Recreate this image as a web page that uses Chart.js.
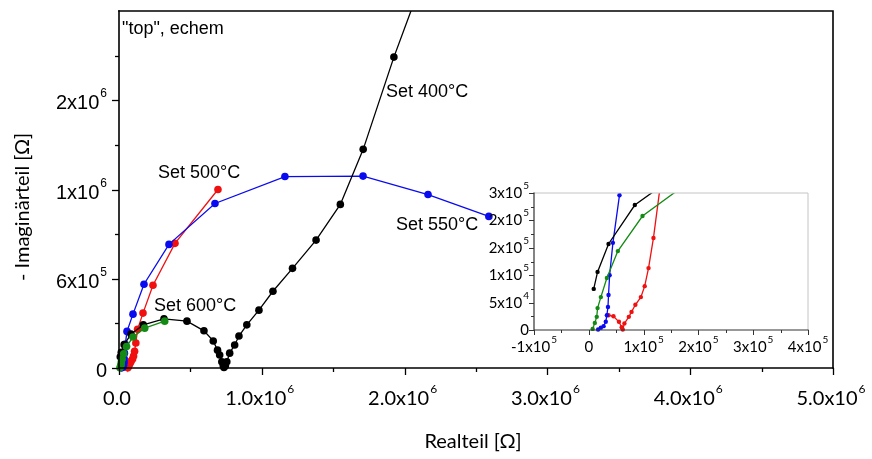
<!DOCTYPE html>
<html>
<head>
<meta charset="utf-8">
<script src="https://cdn.jsdelivr.net/npm/chart.js@4/dist/chart.umd.min.js"></script>
<style>
  html, body { margin: 0; padding: 0; background: #fff; }
  #wrap { position: relative; width: 872px; height: 459px; overflow: hidden; }
  #main { position: absolute; left: 0; top: 0; }
  #inset { position: absolute; left: 470px; top: 173px; }
</style>
</head>
<body>
<div id="wrap">
  <canvas id="main" width="872" height="459"></canvas>
  <canvas id="inset" width="368" height="190"></canvas>
</div>
<script>
// Impedance spectra (Nyquist): real part vs. negative imaginary part, in Ohm
const set400Re = [9e3, 1.6e4, 3.6e4, 8.4e4, 1.7e5, 3.15e5, 4.76e5, 5.95e5, 6.6e5, 6.9e5, 7.05e5, 7.2e5, 7.3e5, 7.35e5,
                  7.45e5, 7.55e5, 7.75e5, 8.1e5, 8.4e5, 8.95e5, 9.8e5, 1.078e6, 1.215e6, 1.38e6, 1.55e6, 1.71e6, 1.925e6, 2.16e6];
const set400Im = [7.5e4, 1.06e5, 1.57e5, 2.28e5, 2.9e5, 3.3e5, 3.15e5, 2.5e5, 1.82e5, 1.2e5, 8.7e4, 4.2e4, 1.5e4, 3e3,
                  1.5e4, 4.2e4, 1.0e5, 1.55e5, 2.15e5, 2.9e5, 3.89e5, 5.16e5, 6.7e5, 8.6e5, 1.1e6, 1.47e6, 2.09e6, 2.7e6];

const set500Re = [3.6e4, 4.5e4, 5.5e4, 6.0e4, 6.2e4, 6.5e4, 7.3e4, 7.8e4, 8.5e4, 9.5e4, 1.02e5, 1.09e5, 1.18e5,
                  1.3e5, 1.68e5, 2.38e5, 3.92e5, 6.93e5];
const set500Im = [2.7e4, 2.5e4, 1.5e4, 5e3, 1e3, 1.2e4, 2.4e4, 3.3e4, 4.6e4, 6.0e4, 8.0e4, 1.13e5, 1.68e5,
                  2.6e5, 3.69e5, 5.56e5, 8.38e5, 1.2e6];

const set550Re = [1.7e4, 2.2e4, 2.7e4, 3.1e4, 3.3e4, 3.5e4, 3.6e4, 3.8e4, 4.4e4, 5.6e4, 9.8e4, 1.75e5, 3.5e5,
                  6.72e5, 1.162e6, 1.709e6, 2.164e6, 2.59e6];
const set550Im = [1e3, 4e3, 7e3, 1.5e4, 2.7e4, 4.2e4, 6.4e4, 1.0e5, 1.59e5, 2.46e5, 3.62e5, 5.63e5, 8.31e5,
                  1.106e6, 1.287e6, 1.29e6, 1.166e6, 1.019e6];

const set600Re = [7e3, 1.1e4, 1.45e4, 1.6e4, 2.2e4, 3.3e4, 5.3e4, 9.8e4, 1.8e5, 3.2e5];
const set600Im = [2e3, 1.3e4, 2.4e4, 4.0e4, 6.0e4, 9.5e4, 1.44e5, 2.08e5, 2.68e5, 3.15e5];

// Axis ticks (all) and the labelled subset
const mainReTicks = [0, 5e5, 1e6, 1.5e6, 2e6, 2.5e6, 3e6, 3.5e6, 4e6, 4.5e6, 5e6];
const mainReLabels = [0, 1e6, 2e6, 3e6, 4e6, 5e6];
const mainImTicks = [0, 3e5, 6e5, 9e5, 1.2e6, 1.5e6, 1.8e6, 2.1e6];
const mainImLabels = [0, 6e5, 1.2e6, 1.8e6];
const insetReTicks = [-1e5, -5e4, 0, 5e4, 1e5, 1.5e5, 2e5, 2.5e5, 3e5, 3.5e5, 4e5];
const insetReLabels = [-1e5, 0, 1e5, 2e5, 3e5, 4e5];
const insetImTicks = [0, 2.5e4, 5e4, 7.5e4, 1e5, 1.25e5, 1.5e5, 1.75e5, 2e5, 2.25e5, 2.5e5];
const insetImLabels = [0, 5e4, 1e5, 1.5e5, 2e5, 2.5e5];

const zip = (xs, ys) => xs.map((x, i) => ({ x: x, y: ys[i] }));

// mantissa rounded to the axis format, exponent drawn as superscript
function sciParts(v, fixed) {
  if (v === 0) return [fixed ? '0.0' : '0', ''];
  const e = Math.floor(Math.log10(Math.abs(v)) + 1e-9);
  const m = v / Math.pow(10, e);
  return [(fixed ? m.toFixed(1) : String(Math.round(m))) + 'x10', String(e)];
}

function drawSci(ctx, parts, x, y, align, font, supFont, rise) {
  ctx.font = font;
  const w1 = ctx.measureText(parts[0]).width;
  ctx.font = supFont;
  const w2 = parts[1] ? ctx.measureText(parts[1]).width + 1 : 0;
  const total = w1 + w2;
  let start = x;
  if (align === 'center') start = x - total / 2;
  else if (align === 'right') start = x - total;
  ctx.textAlign = 'left';
  ctx.textBaseline = 'alphabetic';
  ctx.font = font;
  ctx.fillText(parts[0], start, y);
  if (parts[1]) {
    ctx.font = supFont;
    ctx.fillText(parts[1], start + w1 + 1, y - rise);
  }
}

function axesPlugin(spec) {
  return {
    id: 'axesFrame',
    afterDraw(chart) {
      const ctx = chart.ctx, a = chart.chartArea;
      const xs = chart.scales.x, ys = chart.scales.y;
      ctx.save();
      ctx.lineCap = 'square';
      ctx.strokeStyle = spec.farColor;
      ctx.lineWidth = spec.farWidth;
      ctx.beginPath();
      ctx.moveTo(a.left, a.top); ctx.lineTo(a.right, a.top); ctx.lineTo(a.right, a.bottom);
      ctx.stroke();
      ctx.strokeStyle = spec.axisColor;
      ctx.lineWidth = spec.axisWidth;
      ctx.beginPath();
      ctx.moveTo(a.left, a.top); ctx.lineTo(a.left, a.bottom); ctx.lineTo(a.right, a.bottom);
      ctx.stroke();
      ctx.lineCap = 'butt';
      ctx.lineWidth = spec.tickWidth;
      spec.xTicks.forEach(v => {
        const px = Math.round(xs.getPixelForValue(v)) + 0.5;
        const len = spec.xLabels.includes(v) ? spec.major : spec.minor;
        ctx.beginPath(); ctx.moveTo(px, a.bottom); ctx.lineTo(px, a.bottom + len); ctx.stroke();
      });
      spec.yTicks.forEach(v => {
        const py = Math.round(ys.getPixelForValue(v)) + 0.5;
        const len = spec.yLabels.includes(v) ? spec.major : spec.minor;
        ctx.beginPath(); ctx.moveTo(a.left, py); ctx.lineTo(a.left - len, py); ctx.stroke();
      });
      ctx.fillStyle = '#000';
      spec.xLabels.forEach(v => drawSci(ctx, sciParts(v, spec.xFixed), xs.getPixelForValue(v) + spec.xShift,
        a.bottom + spec.xDrop, 'center', spec.xFont, spec.xSupFont, spec.xRise));
      spec.yLabels.forEach(v => drawSci(ctx, sciParts(v, false), a.left - spec.yGap,
        ys.getPixelForValue(v) + spec.yDrop, 'right', spec.yFont, spec.ySupFont, spec.yRise));
      ctx.restore();
    }
  };
}

// axis titles and series annotations of the main plot
const mainText = {
  id: 'mainText',
  afterDraw(chart) {
    const ctx = chart.ctx;
    ctx.save();
    ctx.fillStyle = '#000';
    ctx.textBaseline = 'alphabetic';
    ctx.textAlign = 'left';
    ctx.font = '18px "Liberation Sans", Arial, sans-serif';
    ctx.fillText('"top", echem', 122, 34);
    ctx.fillText('Set 400°C', 386, 97);
    ctx.fillText('Set 500°C', 158, 178);
    ctx.fillText('Set 550°C', 396, 230);
    ctx.fillText('Set 600°C', 154, 311);
    ctx.textAlign = 'center';
    ctx.font = '20px Lato, "Open Sans", sans-serif';
    ctx.fillText('Realteil [Ω]', 473, 448);
    ctx.translate(29, 207);
    ctx.rotate(-Math.PI / 2);
    ctx.fillText('- Imaginärteil [Ω]', 0, 0);
    ctx.restore();
  }
};

function seriesSets(radius, width) {
  const mk = (label, re, im, color) => ({
    label: label, data: zip(re, im), showLine: true,
    borderColor: color, backgroundColor: color,
    borderWidth: width, pointRadius: radius, pointHoverRadius: radius,
    pointBorderWidth: 0, tension: 0,
    clip: { left: 6, bottom: 6, top: 0, right: 0 }
  });
  return [
    mk('Set 600°C', set600Re, set600Im, '#138a13'),
    mk('Set 400°C', set400Re, set400Im, '#000000'),
    mk('Set 550°C', set550Re, set550Im, '#0a0af0'),
    mk('Set 500°C', set500Re, set500Im, '#f01010')
  ];
}

function scaleOpts(min, max, size, horizontal) {
  return {
    type: 'linear', min: min, max: max,
    grid: { display: false }, border: { display: false },
    ticks: { display: false },
    afterFit(s) { if (horizontal) s.height = size; else s.width = size; }
  };
}

new Chart(document.getElementById('main'), {
  type: 'scatter',
  data: { datasets: seriesSets(3.8, 1.3) },
  options: {
    responsive: false, animation: false, devicePixelRatio: 1,
    layout: { padding: { left: 0, top: 11, right: 39, bottom: 0 } },
    plugins: { legend: { display: false }, tooltip: { enabled: false } },
    scales: {
      x: scaleOpts(0, 5e6, 91, true),
      y: scaleOpts(0, 2.4e6, 119, false)
    }
  },
  plugins: [axesPlugin({
    farColor: '#000', farWidth: 1.6, axisColor: '#000', axisWidth: 1.6, tickWidth: 1.3,
    major: 7, minor: 4,
    xTicks: mainReTicks, xLabels: mainReLabels, yTicks: mainImTicks, yLabels: mainImLabels,
    xFixed: true, xShift: -2, xDrop: 37, xFont: '20px Lato, sans-serif', xSupFont: '12px Lato, sans-serif', xRise: 12,
    yGap: 12, yDrop: 9, yFont: '20px "Liberation Sans", Arial, sans-serif', ySupFont: '12px "Liberation Sans", Arial, sans-serif', yRise: 12
  }), mainText]
});

new Chart(document.getElementById('inset'), {
  type: 'scatter',
  data: { datasets: seriesSets(2.2, 1.3) },
  options: {
    responsive: false, animation: false, devicePixelRatio: 1,
    layout: { padding: { left: 0, top: 20, right: 30, bottom: 0 } },
    plugins: { legend: { display: false }, tooltip: { enabled: false } },
    scales: {
      x: scaleOpts(-1e5, 4e5, 33, true),
      y: scaleOpts(0, 2.5e5, 64, false)
    }
  },
  plugins: [axesPlugin({
    farColor: '#c4c4c4', farWidth: 1, axisColor: '#333', axisWidth: 1.2, tickWidth: 1,
    major: 5, minor: 3,
    xTicks: insetReTicks, xLabels: insetReLabels, yTicks: insetImTicks, yLabels: insetImLabels,
    xFixed: false, xShift: 0, xDrop: 22, xFont: '15px Lato, sans-serif', xSupFont: '10px Lato, sans-serif', xRise: 9,
    yGap: 5, yDrop: 5, yFont: '15px Lato, sans-serif', ySupFont: '10px Lato, sans-serif', yRise: 9
  })]
});
</script>
</body>
</html>
